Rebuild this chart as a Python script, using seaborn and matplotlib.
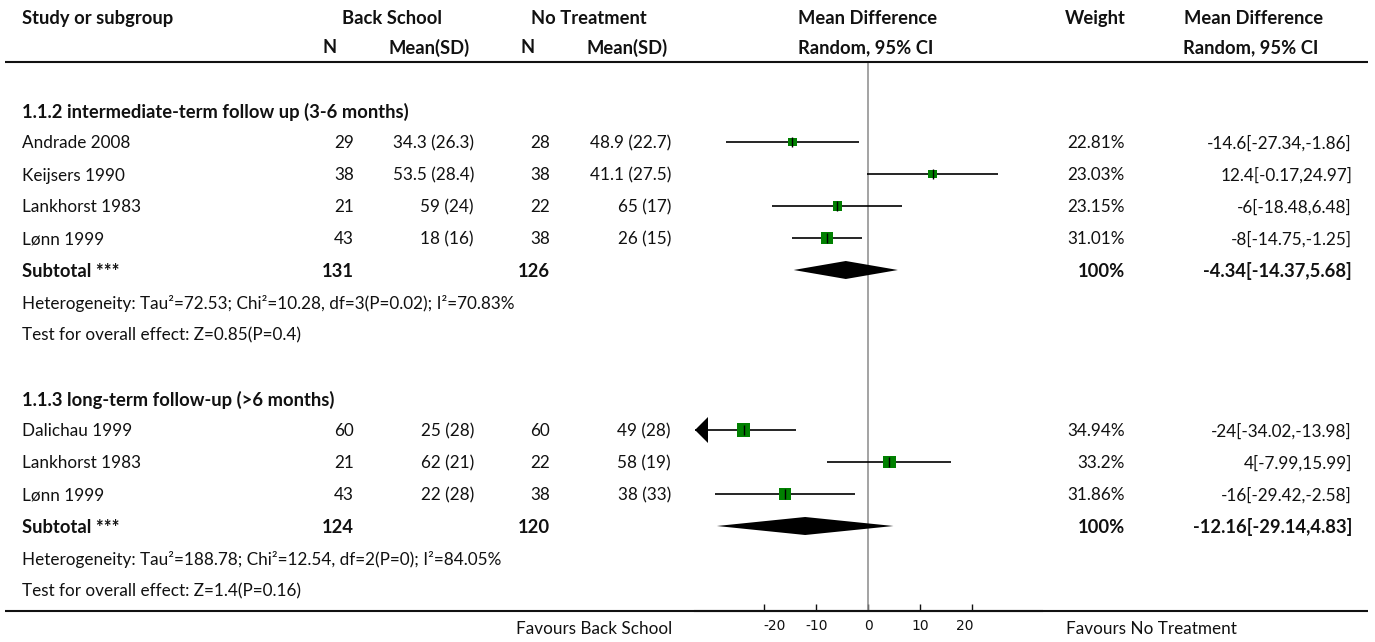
import matplotlib
matplotlib.use("Agg")
import matplotlib.pyplot as plt
import numpy as np
import pandas as pd
import seaborn as sns
from matplotlib.patches import Polygon
from matplotlib.transforms import ScaledTranslation

# ---- study-level data -------------------------------------------------
studies = ["Andrade 2008", "Keijsers 1990", "Lankhorst 1983", "Lønn 1999",
           "Dalichau 1999", "Lankhorst 1983", "Lønn 1999"]
subgroup = [0, 0, 0, 0, 1, 1, 1]
bs_n = [29, 38, 21, 43, 60, 21, 43]
bs_mean = [34.3, 53.5, 59, 18, 25, 62, 22]
bs_sd = [26.3, 28.4, 24, 16, 28, 21, 28]
nt_n = [28, 38, 22, 38, 60, 22, 38]
nt_mean = [48.9, 41.1, 65, 26, 49, 58, 38]
nt_sd = [22.7, 27.5, 17, 15, 28, 19, 33]
md = [-14.6, 12.4, -6, -8, -24, 4, -16]
ci_low = [-27.34, -0.17, -18.48, -14.75, -34.02, -7.99, -29.42]
ci_high = [-1.86, 24.97, 6.48, -1.25, -13.98, 15.99, -2.58]
weight = [22.81, 23.03, 23.15, 31.01, 34.94, 33.2, 31.86]

# ---- subgroup summaries -------------------------------------------------
sub_titles = ["1.1.2 intermediate-term follow up (3-6 months)",
              "1.1.3 long-term follow-up (>6 months)"]
sub_bs_n = [131, 124]
sub_nt_n = [126, 120]
sub_md = [-4.34, -12.16]
sub_low = [-14.37, -29.14]
sub_high = [5.68, 4.83]
sub_weight = [100, 100]
sub_hetero = ["Heterogeneity: Tau²=72.53; Chi²=10.28, df=3(P=0.02); I²=70.83%",
              "Heterogeneity: Tau²=188.78; Chi²=12.54, df=2(P=0); I²=84.05%"]
sub_test = ["Test for overall effect: Z=0.85(P=0.4)",
            "Test for overall effect: Z=1.4(P=0.16)"]

x_ticks = [-20, -10, 0, 10, 20]
x_range = (-33.35, 33.35)
left_label = "Favours Back School"
right_label = "Favours No Treatment"

# ---- layout -----------------------------------------------------------
W, H = 1375, 642
ROW0, ROWH = 14, 32          # pixel y of row 0 and row spacing
TEXT_DY = 1.5 / ROWH         # small downward nudge for text baselines


def row(px):
    return (px - ROW0) / ROWH


sns.set_theme(style="white")
plt.rcParams["font.family"] = ["Lato", "DejaVu Sans"]
FS = 12.3
FS_BOLD = 13.2
BLACK = "#111111"

fig = plt.figure(figsize=(W / 100, H / 100), dpi=100)
tab = fig.add_axes([0, 0, 1, 1])
tab.set_xlim(0, W)
tab.set_ylim(row(H), row(0))
tab.axis("off")

# forest panel
fx0, fx1, fy0, fy1 = 695, 1041.7, 63, 610.7
fax = fig.add_axes([fx0 / W, 1 - fy1 / H, (fx1 - fx0) / W, (fy1 - fy0) / H])
fax.set_facecolor("none")
fax.set_xlim(*x_range)
fax.set_ylim(row(fy1), row(fy0))

# row assignment
rows = []
sub_rows = []
r = 3
for g in range(2):
    title_row = r
    r += 1
    for i, sg in enumerate(subgroup):
        if sg == g:
            rows.append(r)
            r += 1
    sub_rows.append((title_row, r, r + 1, r + 2))
    r += 4

df = pd.DataFrame({"study": studies, "row": rows, "md": md, "lo": ci_low,
                   "hi": ci_high, "w": weight})
# square side grows with study weight
df["area"] = (np.array(weight) * 0.39 * 0.72) ** 2

# ---- table text -------------------------------------------------------
def txt(x, y, s, ha="left", bold=False):
    tab.text(x, y + TEXT_DY, s, ha=ha, va="center",
             fontsize=FS_BOLD if bold else FS, color=BLACK,
             fontweight="bold" if bold else "normal")


hdr0, hdr1 = row(17), row(46)
txt(22, hdr0, "Study or subgroup", bold=True)
txt(392, hdr0, "Back School", ha="center", bold=True)
txt(589, hdr0, "No Treatment", ha="center", bold=True)
txt(868, hdr0, "Mean Difference", ha="center", bold=True)
txt(1095, hdr0, "Weight", ha="center", bold=True)
txt(1254, hdr0, "Mean Difference", ha="center", bold=True)
txt(330, hdr1, "N", ha="center", bold=True)
txt(429, hdr1, "Mean(SD)", ha="center", bold=True)
txt(528, hdr1, "N", ha="center", bold=True)
txt(627, hdr1, "Mean(SD)", ha="center", bold=True)
txt(866, hdr1, "Random, 95% CI", ha="center", bold=True)
txt(1251, hdr1, "Random, 95% CI", ha="center", bold=True)

for i in range(len(studies)):
    y = rows[i]
    txt(22, y, studies[i])
    txt(354, y, f"{bs_n[i]}", ha="right")
    txt(474, y, f"{bs_mean[i]:g} ({bs_sd[i]:g})", ha="right")
    txt(550, y, f"{nt_n[i]}", ha="right")
    txt(671, y, f"{nt_mean[i]:g} ({nt_sd[i]:g})", ha="right")
    txt(1125, y, f"{weight[i]:g}%", ha="right")
    txt(1352, y, f"{md[i]:g}[{ci_low[i]:g},{ci_high[i]:g}]", ha="right")

for g in range(2):
    t_row, s_row, h_row, z_row = sub_rows[g]
    txt(22, t_row, sub_titles[g], bold=True)
    txt(22, s_row, "Subtotal ***", bold=True)
    txt(354, s_row, f"{sub_bs_n[g]}", ha="right", bold=True)
    txt(550, s_row, f"{sub_nt_n[g]}", ha="right", bold=True)
    txt(1125, s_row, f"{sub_weight[g]:g}%", ha="right", bold=True)
    txt(1352, s_row, f"{sub_md[g]:g}[{sub_low[g]:g},{sub_high[g]:g}]",
        ha="right", bold=True)
    txt(22, h_row, sub_hetero[g])
    txt(22, z_row, sub_test[g])

txt(672, row(628), left_label, ha="right")
txt(1066, row(628), right_label, ha="left")

tab.hlines(row(61.5), 5, 1368, color=BLACK, lw=1.5)
tab.hlines(row(610.7), 5, 1368, color=BLACK, lw=1.5)

# ---- forest panel -----------------------------------------------------
fax.axvline(0, color="#8a8a8a", lw=1.1, zorder=1)

xmin, xmax = x_range
arrow_len = 0.0375 * (xmax - xmin)
arrow_half = 13 / ROWH
for _, d in df.iterrows():
    lo, hi = d["lo"], d["hi"]
    start = max(lo, xmin)
    end = min(hi, xmax)
    if lo < xmin:
        fax.add_patch(Polygon([(xmin, d["row"]),
                               (xmin + arrow_len, d["row"] - arrow_half),
                               (xmin + arrow_len, d["row"] + arrow_half)],
                              closed=True, color="black", lw=0, zorder=3))
    if hi > xmax:
        fax.add_patch(Polygon([(xmax, d["row"]),
                               (xmax - arrow_len, d["row"] - arrow_half),
                               (xmax - arrow_len, d["row"] + arrow_half)],
                              closed=True, color="black", lw=0, zorder=3))
    fax.hlines(d["row"], start, end, color="black", lw=1.2, zorder=2)

sns.scatterplot(data=df, x="md", y="row", size="area",
                sizes=(df["area"].min(), df["area"].max()),
                size_norm=(df["area"].min(), df["area"].max()),
                marker="s", color="#008000", linewidth=0, legend=False,
                ax=fax, zorder=4)
sns.scatterplot(data=df, x="md", y="row", marker="|", s=55, color="black",
                linewidth=1.0, legend=False, ax=fax, zorder=5)

dh = 9 / ROWH
for g in range(2):
    y = sub_rows[g][1]
    fax.add_patch(Polygon([(sub_low[g], y), (sub_md[g], y - dh),
                           (sub_high[g], y), (sub_md[g], y + dh)],
                          closed=True, color="black", lw=0, zorder=4))

fax.set_xlabel("")
fax.set_ylabel("")
fax.set_yticks([])
fax.set_xticks(x_ticks)
fax.set_xticklabels([f"{t}" for t in x_ticks], family="DejaVu Sans")
fax.tick_params(axis="x", direction="in", length=5, width=1, pad=6,
                labelsize=10, colors=BLACK, bottom=True)
# outer tick labels sit slightly inward of their ticks
label_shift = {"-20": 10, "20": -8}
for lab in fax.get_xticklabels():
    dx = label_shift.get(lab.get_text(), 0)
    if dx:
        lab.set_transform(lab.get_transform() +
                          ScaledTranslation(dx / 100, 0, fig.dpi_scale_trans))
for side in ["top", "left", "right"]:
    fax.spines[side].set_visible(False)
fax.spines["bottom"].set_color(BLACK)
fax.spines["bottom"].set_linewidth(1.5)
fax.grid(False)

fig.savefig("out.png", dpi=100)
